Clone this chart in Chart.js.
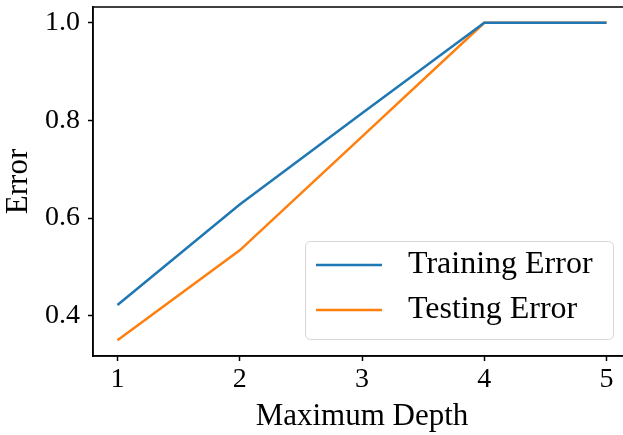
<!DOCTYPE html>
<html>
<head>
<meta charset="utf-8">
<script src="https://cdn.jsdelivr.net/npm/chart.js@4.4.1/dist/chart.umd.min.js"></script>
<style>
  html, body { margin: 0; padding: 0; background: #fff; overflow: hidden; }
  #wrap { width: 631px; height: 435px; }
</style>
</head>
<body>
<div id="wrap"><canvas id="c" width="631" height="435"></canvas></div>
<script>
// Error versus maximum tree depth
const depths = [1, 2, 3, 4, 5];
const trainingError = [0.422, 0.628, 0.815, 1.0, 1.0];
const testingError = [0.350, 0.534, 0.767, 1.0, 1.0];
const yTickValues = [0.4, 0.6, 0.8, 1.0];
const seriesNames = ['Training Error', 'Testing Error'];

const FONT = '"Liberation Serif", "Times New Roman", serif';

// Frame around the plot area plus an in-plot legend
const framePlugin = {
  id: 'frame',
  afterDatasetsDraw(chart) {
    const { ctx, chartArea: a } = chart;
    ctx.save();
    ctx.strokeStyle = '#000';
    ctx.lineWidth = 1.5;
    ctx.strokeRect(a.left, a.top, a.right - a.left, a.bottom - a.top);
    ctx.restore();
  },
  afterDraw(chart) {
    const { ctx } = chart;
    const bx = 305, by = 241, bw = 308, bh = 98, r = 5;
    ctx.save();
    ctx.fillStyle = 'rgba(255,255,255,0.85)';
    ctx.strokeStyle = '#d6d6d6';
    ctx.lineWidth = 1;
    ctx.beginPath();
    ctx.roundRect(bx + 0.5, by + 0.5, bw, bh, r);
    ctx.fill();
    ctx.stroke();
    ctx.font = '32px ' + FONT;
    ctx.textBaseline = 'middle';
    ctx.fillStyle = '#000';
    const rows = [265, 310];
    chart.data.datasets.forEach((ds, i) => {
      ctx.strokeStyle = ds.borderColor;
      ctx.lineWidth = 2.5;
      ctx.beginPath();
      ctx.moveTo(316, rows[i]);
      ctx.lineTo(382, rows[i]);
      ctx.stroke();
      ctx.fillText(ds.label, 408, rows[i]);
    });
    ctx.restore();
  }
};

new Chart(document.getElementById('c'), {
  type: 'line',
  data: {
    datasets: [
      {
        label: seriesNames[0],
        data: depths.map((d, i) => ({ x: d, y: trainingError[i] })),
        borderColor: '#1f77b4',
        borderWidth: 2.5,
        pointRadius: 0,
        tension: 0,
        fill: false
      },
      {
        label: seriesNames[1],
        data: depths.map((d, i) => ({ x: d, y: testingError[i] })),
        borderColor: '#ff7f0e',
        borderWidth: 2.5,
        pointRadius: 0,
        tension: 0,
        fill: false
      }
    ]
  },
  options: {
    responsive: false,
    animation: false,
    events: [],
    layout: { padding: { top: 7, right: 0, left: 0, bottom: 0 } },
    plugins: { legend: { display: false }, tooltip: { enabled: false } },
    scales: {
      x: {
        type: 'linear',
        min: 0.8,
        max: 5.2,
        afterBuildTicks(scale) {
          scale.ticks = depths.map(v => ({ value: v }));
        },
        afterFit(scale) {
          scale.height = 79;
          scale.paddingLeft = 0;
          scale.paddingRight = 0;
        },
        border: { display: true, color: '#000', width: 1.5 },
        grid: { drawOnChartArea: false, drawTicks: true, tickLength: 5, tickColor: '#000', tickWidth: 1.5 },
        ticks: {
          color: '#000',
          font: { family: FONT, size: 28 },
          padding: 2,
          maxRotation: 0,
          callback: v => String(v)
        },
        title: {
          display: true,
          text: 'Maximum Depth',
          color: '#000',
          font: { family: FONT, size: 31 },
          padding: { top: 0, bottom: 0 }
        }
      },
      y: {
        type: 'linear',
        min: 0.3175,
        max: 1.0325,
        afterBuildTicks(scale) {
          scale.ticks = yTickValues.map(v => ({ value: v }));
        },
        afterFit(scale) {
          scale.width = 93;
          scale.paddingTop = 0;
          scale.paddingBottom = 0;
        },
        border: { display: true, color: '#000', width: 1.5 },
        grid: { drawOnChartArea: false, drawTicks: true, tickLength: 5, tickColor: '#000', tickWidth: 1.5 },
        ticks: {
          color: '#000',
          font: { family: FONT, size: 28 },
          padding: 8,
          callback: v => v.toFixed(1)
        },
        title: {
          display: true,
          text: 'Error',
          color: '#000',
          font: { family: FONT, size: 31 },
          padding: { top: 0, bottom: 6 }
        }
      }
    }
  },
  plugins: [framePlugin]
});
</script>
</body>
</html>
